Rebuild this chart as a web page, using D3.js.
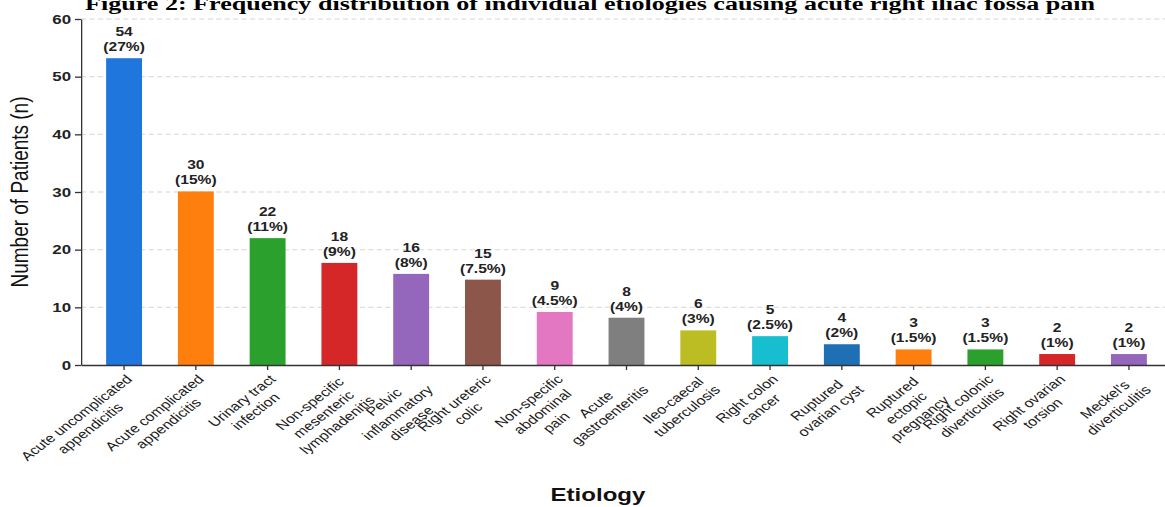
<!DOCTYPE html>
<html lang="en">
<head>
<meta charset="UTF-8">
<title>Frequency distribution of etiologies</title>
<script src="https://d3js.org/d3.v7.min.js"></script>
<style>
  html, body { margin: 0; padding: 0; background: #fff; }
  svg { display: block; }
  text { font-family: "Liberation Sans", Arial, sans-serif; }
</style>
</head>
<body>
<svg id="chart"></svg>
<script>
// data
const categories = [
  "Acute uncomplicated\nappendicitis",
  "Acute complicated\nappendicitis",
  "Urinary tract\ninfection",
  "Non-specific\nmesenteric\nlymphadenitis",
  "Pelvic\ninflammatory\ndisease",
  "Right ureteric\ncolic",
  "Non-specific\nabdominal\npain",
  "Acute\ngastroenteritis",
  "Ileo-caecal\ntuberculosis",
  "Right colon\ncancer",
  "Ruptured\novarian cyst",
  "Ruptured\nectopic\npregnancy",
  "Right colonic\ndiverticulitis",
  "Right ovarian\ntorsion",
  "Meckel's\ndiverticulitis"
];
const counts = [54, 30, 22, 18, 16, 15, 9, 8, 6, 5, 4, 3, 3, 2, 2];
const percents = ["27%", "15%", "11%", "9%", "8%", "7.5%", "4.5%", "4%", "3%", "2.5%", "2%", "1.5%", "1.5%", "1%", "1%"];
// bar heights as drawn (a little under the printed counts in the figure)
const barHeights = [53.2, 30.1, 22.0, 17.7, 15.8, 14.8, 9.2, 8.2, 6.0, 5.0, 3.6, 2.7, 2.7, 1.9, 1.9];
const colors = ["#1f77dd", "#ff7f0e", "#2ca02c", "#d62728", "#9467bd", "#8c564b", "#e377c2", "#7f7f7f",
                "#bcbd22", "#17becf", "#1f6fb4", "#ff7f0e", "#2ca02c", "#d62728", "#9467bd"];
const yTicks = [0, 10, 20, 30, 40, 50, 60];

// the original figure is stretched sideways, so draw in a narrower box and stretch it
const S = 1.3;
const width = 1165, height = 507;
const W = width / S;
const axisX = 81 / S;

const svg = d3.select("#chart")
    .attr("width", width)
    .attr("height", height)
    .attr("viewBox", `0 0 ${W} ${height}`)
    .attr("preserveAspectRatio", "none");

const x = d3.scaleBand()
    .domain(categories)
    .range([axisX, 1172 / S])
    .paddingInner(0.5)
    .paddingOuter(0.35);

const y = d3.scaleLinear()
    .domain([0, 60])
    .range([365, 19]);

// title (cut off at the top edge)
svg.append("text")
    .attr("x", 590 / S)
    .attr("y", 10)
    .attr("text-anchor", "middle")
    .style("font-family", '"Liberation Serif", "Times New Roman", serif')
    .attr("font-weight", "bold")
    .attr("font-size", 19)
    .attr("textLength", 1010 / S)
    .attr("lengthAdjust", "spacingAndGlyphs")
    .text("Figure 2: Frequency distribution of individual etiologies causing acute right iliac fossa pain");

// dashed grid
svg.append("g")
    .selectAll("line")
    .data(yTicks.filter(d => d > 0))
    .join("line")
    .attr("x1", axisX)
    .attr("x2", W)
    .attr("y1", d => y(d))
    .attr("y2", d => y(d))
    .attr("stroke", "#d6d6d6")
    .attr("stroke-width", 1)
    .attr("stroke-dasharray", "4,2.5");

// bars
svg.append("g")
    .selectAll("rect")
    .data(categories)
    .join("rect")
    .attr("x", d => x(d))
    .attr("width", x.bandwidth())
    .attr("y", (d, i) => y(barHeights[i]))
    .attr("height", (d, i) => y(0) - y(barHeights[i]))
    .attr("fill", (d, i) => colors[i]);

// y axis
const yAxis = svg.append("g")
    .attr("transform", `translate(${axisX},0)`)
    .call(d3.axisLeft(y).tickValues(yTicks).tickSize(6 / S).tickSizeOuter(0).tickPadding(3));
yAxis.selectAll("text")
    .attr("font-size", 13)
    .attr("font-weight", "bold")
    .attr("fill", "#222");

// x axis
const xAxis = svg.append("g")
    .attr("transform", `translate(0,${y(0)})`)
    .call(d3.axisBottom(x).tickSize(5).tickSizeOuter(0).tickFormat(""));

svg.selectAll(".domain, .tick line")
    .attr("stroke", "#333")
    .attr("stroke-width", 1.3)
    .attr("vector-effect", "non-scaling-stroke");

// rotated category labels, lines centred, block's right end at the tick
const fs = 12.4, lh = 15;
categories.forEach(c => {
    const g = svg.append("g")
        .attr("transform", `translate(${x(c) + x.bandwidth() / 2},${y(0) + 8}) rotate(-45)`);
    const t = g.selectAll("text")
        .data(c.split("\n"))
        .join("text")
        .attr("y", (d, j) => fs * 0.8 + j * lh)
        .attr("font-size", fs)
        .attr("text-anchor", "middle")
        .attr("fill", "#1a1a1a")
        .text(d => d);
    const w = d3.max(t.nodes(), n => n.getComputedTextLength());
    t.attr("x", -w / 2);
});

// value labels
const vals = svg.append("g")
    .attr("font-size", 12)
    .attr("font-weight", "bold")
    .attr("text-anchor", "middle")
    .attr("fill", "#222");

vals.selectAll("text.cnt")
    .data(categories)
    .join("text")
    .attr("class", "cnt")
    .attr("x", d => x(d) + x.bandwidth() / 2)
    .attr("y", (d, i) => y(barHeights[i]) - 22)
    .text((d, i) => counts[i]);

vals.selectAll("text.pct")
    .data(categories)
    .join("text")
    .attr("class", "pct")
    .attr("x", d => x(d) + x.bandwidth() / 2)
    .attr("y", (d, i) => y(barHeights[i]) - 7)
    .text((d, i) => `(${percents[i]})`);

// axis titles
svg.append("text")
    .attr("transform", `translate(${21.5},${192}) rotate(-90)`)
    .attr("text-anchor", "middle")
    .attr("font-size", 19)
    .attr("fill", "#111")
    .text("Number of Patients (n)");

svg.append("text")
    .attr("x", 598 / S)
    .attr("y", 501)
    .attr("text-anchor", "middle")
    .attr("font-size", 18.5)
    .attr("font-weight", "bold")
    .attr("fill", "#111")
    .text("Etiology");
</script>
</body>
</html>
